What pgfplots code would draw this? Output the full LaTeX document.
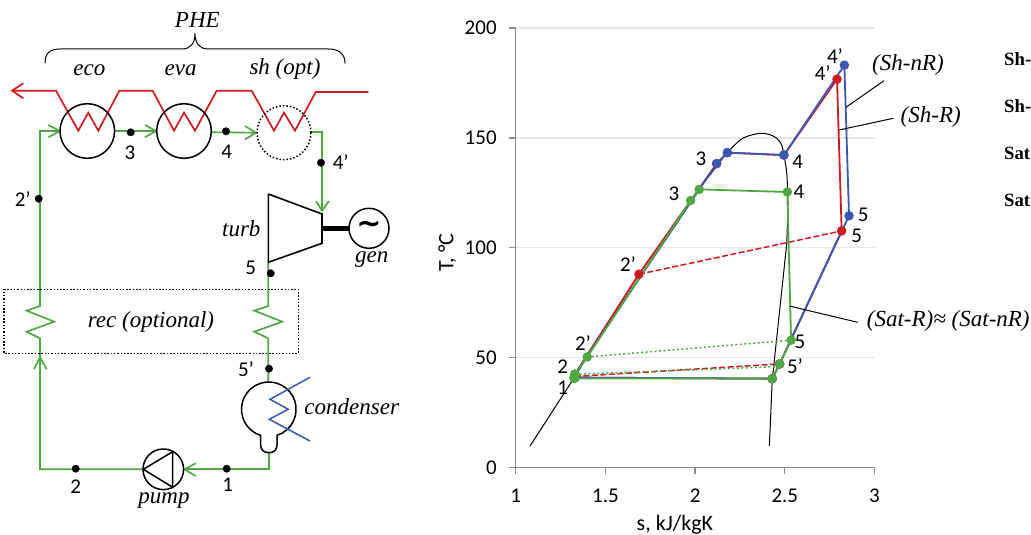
\documentclass[border=0pt]{standalone}
\usepackage{fontspec}
\usepackage{pgfplots}
\pgfplotsset{compat=1.18}
\setmainfont{Liberation Serif}
\newfontfamily\carl{Carlito}
\newfontfamily\dejav{DejaVu Sans}
\definecolor{cred}{HTML}{CE1B22}
\definecolor{cblue}{HTML}{3C57B2}
\definecolor{cgreen}{HTML}{50A844}
\definecolor{axgray}{HTML}{8C8C8C}
\definecolor{gridc}{HTML}{E6E6E6}
\newcommand{\nb}{\carl\fontsize{21}{25}\selectfont}
\newcommand{\lb}{\carl\fontsize{22}{26}\selectfont}
\newcommand{\itl}{\itshape\fontsize{23}{27}\selectfont}
\newcommand{\bdl}{\bfseries\fontsize{18.7}{22}\selectfont}
\begin{document}
\begin{tikzpicture}
\useasboundingbox (0,0) rectangle (1031pt,535pt);
\clip (0,0) rectangle (1031pt,535pt);
% ---------- T-s chart
\begin{axis}[
  at={(515.7pt,67.3pt)},anchor=south west,scale only axis,
  width=358.8pt,height=439.7pt,
  xmin=1,xmax=3,ymin=0,ymax=200,
  axis x line=bottom,axis y line=left,
  axis line style={-,axgray,line width=1.5pt},
  xtick={1,1.5,2,2.5,3},ytick={0,50,100,150,200},
  tick align=outside,
  major tick length=6.5pt,
  tick style={axgray,line width=1.3pt},
  ymajorgrids,grid style={gridc,line width=1.3pt},
  /pgf/number format/assume math mode=true,
  tick label style={font=\nb,text=black},
  xticklabel style={yshift=-11pt},
  yticklabel style={xshift=-9pt},
  xlabel={s, kJ/kgK},ylabel={T, °C},
  label style={font=\lb},
  xlabel style={at={(axis description cs:0.4437,0)},anchor=center,yshift=-57pt},
  ylabel style={at={(axis description cs:-0.191,0.4895)},anchor=center},
  clip=false
]
% saturation curve
\addplot[black,line width=1pt] coordinates {(1.080,9.9)(1.325,40.8)(1.687,88.1)(2.022,126.8)(2.178,143.3)};
\addplot[black,line width=1pt,smooth,tension=0.5] coordinates {(2.178,143.3)(2.25,149)(2.297,150.9)(2.362,152.1)(2.417,151.5)(2.455,149.8)(2.483,146.8)(2.495,142.2)(2.511,133.9)(2.518,120.3)};
\addplot[black,line width=1pt] coordinates {(2.518,120.3)(2.511,102)(2.43,40)(2.414,9.9)};
% Sh-R
\addplot[cred,line width=1.8pt,mark=*,mark size=3.8pt,mark options={solid,fill=cred}] coordinates {(1.33,41)(1.33,42.5)(1.687,88)(2.12,138.3)(2.18,143.3)(2.495,142.2)(2.791,176.7)(2.817,107.7)(2.471,47.2)(2.43,40.5)(1.33,41)};
\addplot[cred,line width=1.5pt,dash pattern=on 6pt off 2.5pt] coordinates {(1.687,88)(2.817,107.7)};
\addplot[cred,line width=1.5pt,dash pattern=on 6pt off 2.5pt] coordinates {(1.33,41.5)(2.471,47.2)};
% Sh-nR
\addplot[cblue,line width=1.8pt,mark=*,mark size=3.8pt,mark options={fill=cblue}] coordinates {(1.33,41)(1.33,42.5)(2.12,138.3)(2.18,143.3)(2.495,142.2)(2.832,183.1)(2.858,114.6)(2.471,47.2)(2.43,40.5)(1.33,41)};
% Sat
\addplot[cgreen,line width=1.8pt,mark=*,mark size=3.8pt,mark options={fill=cgreen}] coordinates {(1.33,42.5)(1.399,50.4)(1.975,121.5)(2.023,126.6)(2.514,125.4)(2.535,58)(2.471,47.2)(2.43,40.5)(1.327,40.6)(1.33,42.5)};
\addplot[cgreen,only marks,mark=*,mark size=5pt,mark options={fill=cgreen}] coordinates {(1.327,40.9)};
\addplot[cgreen,line width=1.5pt,dash pattern=on 2pt off 2.5pt] coordinates {(1.399,50.4)(2.535,58)};
\addplot[cgreen,line width=1.5pt,dash pattern=on 2pt off 2.5pt] coordinates {(1.33,42.5)(2.471,46)};
\end{axis}
% ---------- pixel overlay: schematic and annotations
\begin{axis}[
  at={(0pt,0pt)},anchor=south west,scale only axis,
  width=1031pt,height=535pt,
  xmin=0,xmax=1031,ymin=0,ymax=535,y dir=reverse,
  hide axis,clip=false
]
% red hot stream
\addplot[cred,line width=1.7pt] coordinates {(12,90.7)(56,90.7)(78.3,130.7)(88.3,112.7)(98.3,130.7)(119.3,90.7)(152.7,90.7)(174,130.7)(184,112.7)(195,130.7)(216.7,90.7)(251.7,90.7)(274,130.7)(284,112.7)(295,130.7)(315.7,92)(368.3,92)};
\addplot[cred,line width=1.7pt] coordinates {(23.3,83.3)(12,90.7)(23.3,98.3)};
% heat exchanger circles
\addplot[black,only marks,mark=o,mark size=27.3pt,mark options={line width=1.5pt}] coordinates {(87.3,131)(184,131)};
\addplot[black,only marks,mark=o,mark size=27pt,mark options={line width=1.5pt,dash pattern=on 1.5pt off 2pt}] coordinates {(284,132.7)};
% green loop
\addplot[cgreen,line width=1.7pt] coordinates {(60,131)(40,131)(40,306)(26.7,310.7)(54.3,321.7)(26.7,331.7)(40,338.3)(40,469.3)(143.3,469.3)};
\addplot[cgreen,line width=1.7pt] coordinates {(48.3,125)(60,131)(48.3,137.3)};
\addplot[cgreen,line width=1.7pt] coordinates {(114.7,131)(156,131)};
\addplot[cgreen,line width=1.7pt] coordinates {(145,125)(156,131)(145,137.3)};
\addplot[cgreen,line width=1.7pt] coordinates {(211,132.3)(256,132.7)};
\addplot[cgreen,line width=1.7pt] coordinates {(245,126)(256,132.7)(245,139.5)};
\addplot[cgreen,line width=1.7pt] coordinates {(310.7,132.3)(322,132.3)(322,210.7)};
\addplot[cgreen,line width=1.7pt] coordinates {(316,201)(322,210.7)(329,201)};
\addplot[cgreen,line width=1.7pt] coordinates {(34,369.3)(40,357.3)(46.7,369.3)};
\addplot[cgreen,line width=1.7pt] coordinates {(268.3,262.3)(268.3,306)(254.3,310.7)(282.3,321.7)(254.3,331.7)(268.3,338.3)(268.3,382)};
\addplot[cgreen,line width=1.7pt] coordinates {(269.3,452.7)(269.3,469.3)(184.3,469.3)};
\addplot[cgreen,line width=1.7pt] coordinates {(195.7,463.3)(184.3,469.3)(195.7,476)};
% turbine, shaft, generator
\addplot[black,line width=1.6pt] coordinates {(268.3,194)(322,214)(322,243.3)(268.3,262.3)(268.3,194)};
\addplot[black,line width=5pt] coordinates {(322,228)(349,228)};
\addplot[black,only marks,mark=o,mark size=20pt,mark options={line width=1.5pt}] coordinates {(369,228.3)};
\node[font={\dejav\bfseries\fontsize{30}{30}\selectfont},inner sep=0pt] at (369,227) {∼};
% pump
\addplot[black,only marks,mark=o,mark size=20.3pt,mark options={line width=1.5pt}] coordinates {(163.3,469.3)};
\addplot[black,line width=1.5pt] coordinates {(143.3,469.3)(172.7,451.7)(172.7,487.3)(143.3,469.3)};
% condenser: drum and neck as one outline
\draw[black,line width=1.5pt] (277.1,435.3) arc[start angle=-72.3,end angle=252.3,radius=27.3pt] -- (260.5,444) .. controls (260.5,450) and (264,452.7) .. (268.8,452.7) .. controls (274,452.7) and (277.1,450) .. (277.1,444) -- cycle;
\addplot[cblue,line width=1.5pt] coordinates {(310,377.3)(270,399.3)(288.3,409.3)(269.3,419.3)(310,441)};
% recuperator box
\addplot[black,line width=1.5pt,dash pattern=on 1.5pt off 1.8pt] coordinates {(4,289.3)(298.3,289.3)(298.3,353.3)(4,353.3)(4,289.3)};
% brace
\draw[black,line width=1pt] (45,63.3) .. controls (45,53) and (50,49) .. (60,49) -- (181.7,49) .. controls (190,49) and (195,44) .. (195,33.3) .. controls (195,44) and (200,49) .. (208.3,49) -- (328.3,49) .. controls (338,49) and (345,53) .. (345,63.3);
% state points
\addplot[black,only marks,mark=*,mark size=3.7pt,mark options={fill=black}] coordinates {(130.7,132.3)(226,131.3)(321,162.7)(38.7,198.7)(270.7,273.3)(269,368.7)(226.7,468.7)(75.7,468.7)};
% schematic text
\node[font=\itl] at (197.3,20) {PHE};
\node[font=\itl] at (89.3,70) {eco};
\node[font=\itl] at (180.7,70) {eva};
\node[font=\itl] at (285,69) {sh (opt)};
\node[font=\itl] at (241.3,228.7) {turb};
\node[font=\itl] at (371.7,260) {gen};
\node[font=\itl] at (151,321.7) {rec (optional)};
\node[font=\itl] at (351.7,406.7) {condenser};
\node[font=\itl] at (164,500.7) {pump};
\node[font=\nb] at (130,152.7) {3};
\node[font=\nb] at (226.7,152) {4};
\node[font=\nb] at (340.7,162.3) {4’};
\node[font=\nb] at (22.7,199.3) {2’};
\node[font=\nb] at (250.7,268.3) {5};
\node[font=\nb] at (246,369.3) {5’};
\node[font=\nb] at (75.7,486.7) {2};
\node[font=\nb] at (227.7,485) {1};
% chart point labels
\node[font=\nb] at (835,56) {4’};
\node[font=\nb] at (822.7,73) {4’};
\node[font=\nb] at (701,159) {3};
\node[font=\nb] at (674,194) {3};
\node[font=\nb] at (797.7,161.7) {4};
\node[font=\nb] at (799,191.7) {4};
\node[font=\nb] at (863.3,215) {5};
\node[font=\nb] at (856.7,236) {5};
\node[font=\nb] at (628,264) {2’};
\node[font=\nb] at (583,343) {2’};
\node[font=\nb] at (562.7,366.7) {2};
\node[font=\nb] at (562.7,387.7) {1};
\node[font=\nb] at (800,341.7) {5};
\node[font=\nb] at (795,365.7) {5’};
% annotations
\addplot[black,line width=1pt] coordinates {(846,107.3)(884,80.7)};
\addplot[black,line width=1pt] coordinates {(839,130)(893.3,118.3)};
\addplot[black,line width=1pt] coordinates {(789.3,306)(857.7,322.3)};
\node[font=\itl] at (908,65) {(Sh-nR)};
\node[font=\itl] at (930.7,117) {(Sh-R)};
\node[font=\itl,anchor=west,inner sep=0pt] at (866.7,321) {(Sat-R)≈ (Sat-nR)};
% legend entries as far as the picture shows them
\node[font=\bdl,anchor=west,inner sep=0pt] at (1004,59.3) {Sh-};
\node[font=\bdl,anchor=west,inner sep=0pt] at (1004,106) {Sh-};
\node[font=\bdl,anchor=west,inner sep=0pt] at (1004,153.3) {Sat};
\node[font=\bdl,anchor=west,inner sep=0pt] at (1004,200) {Sat};
\end{axis}
\end{tikzpicture}
\end{document}
